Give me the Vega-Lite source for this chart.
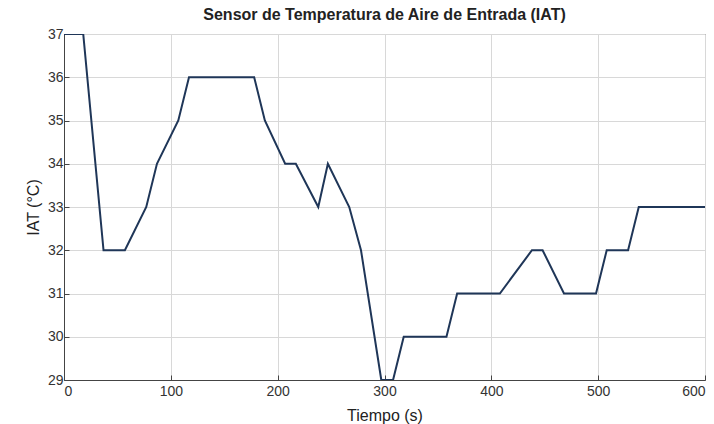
{
  "$schema": "https://vega.github.io/schema/vega-lite/v6.json",
  "width": 641,
  "height": 346,
  "autosize": {"type": "none"},
  "padding": {"left": 64, "top": 34, "right": 9, "bottom": 44},
  "background": "white",
  "title": {
    "text": "Sensor de Temperatura de Aire de Entrada (IAT)",
    "font": "Liberation Sans",
    "fontSize": 16,
    "fontWeight": "bold",
    "color": "#222",
    "offset": 4
  },
  "config": {
    "view": {"stroke": "#444", "strokeWidth": 1},
    "axis": {
      "labelFont": "Liberation Sans",
      "titleFont": "Liberation Sans",
      "labelFontSize": 14,
      "titleFontSize": 16,
      "labelColor": "#333",
      "titleColor": "#222",
      "titleFontWeight": "normal",
      "gridColor": "#d8d8d8",
      "gridWidth": 1,
      "domainColor": "#444",
      "tickColor": "#444",
      "tickSize": -5
    }
  },
  "data": {
    "values": [
      {"t": 0, "iat": 37}, {"t": 18, "iat": 37}, {"t": 37, "iat": 32}, {"t": 57, "iat": 32},
      {"t": 77, "iat": 33}, {"t": 87, "iat": 34}, {"t": 107, "iat": 35}, {"t": 117, "iat": 36},
      {"t": 178, "iat": 36}, {"t": 188, "iat": 35}, {"t": 207, "iat": 34}, {"t": 217, "iat": 34},
      {"t": 238, "iat": 33}, {"t": 247, "iat": 34}, {"t": 267, "iat": 33}, {"t": 278, "iat": 32},
      {"t": 297, "iat": 29}, {"t": 308, "iat": 29}, {"t": 318, "iat": 30}, {"t": 358, "iat": 30},
      {"t": 368, "iat": 31}, {"t": 408, "iat": 31}, {"t": 438, "iat": 32}, {"t": 448, "iat": 32},
      {"t": 468, "iat": 31}, {"t": 498, "iat": 31}, {"t": 508, "iat": 32}, {"t": 528, "iat": 32},
      {"t": 538, "iat": 33}, {"t": 600, "iat": 33}
    ]
  },
  "mark": {"type": "line", "color": "#1f3658", "strokeWidth": 2, "clip": true},
  "encoding": {
    "x": {
      "field": "t", "type": "quantitative",
      "scale": {"domain": [0, 600], "nice": false},
      "axis": {"title": "Tiempo (s)", "values": [0, 100, 200, 300, 400, 500, 600], "labelPadding": 9, "titlePadding": 9}
    },
    "y": {
      "field": "iat", "type": "quantitative",
      "scale": {"domain": [29, 37], "nice": false, "zero": false},
      "axis": {"title": "IAT (°C)", "values": [29, 30, 31, 32, 33, 34, 35, 36, 37], "labelPadding": 6, "titlePadding": 6}
    }
  }
}
